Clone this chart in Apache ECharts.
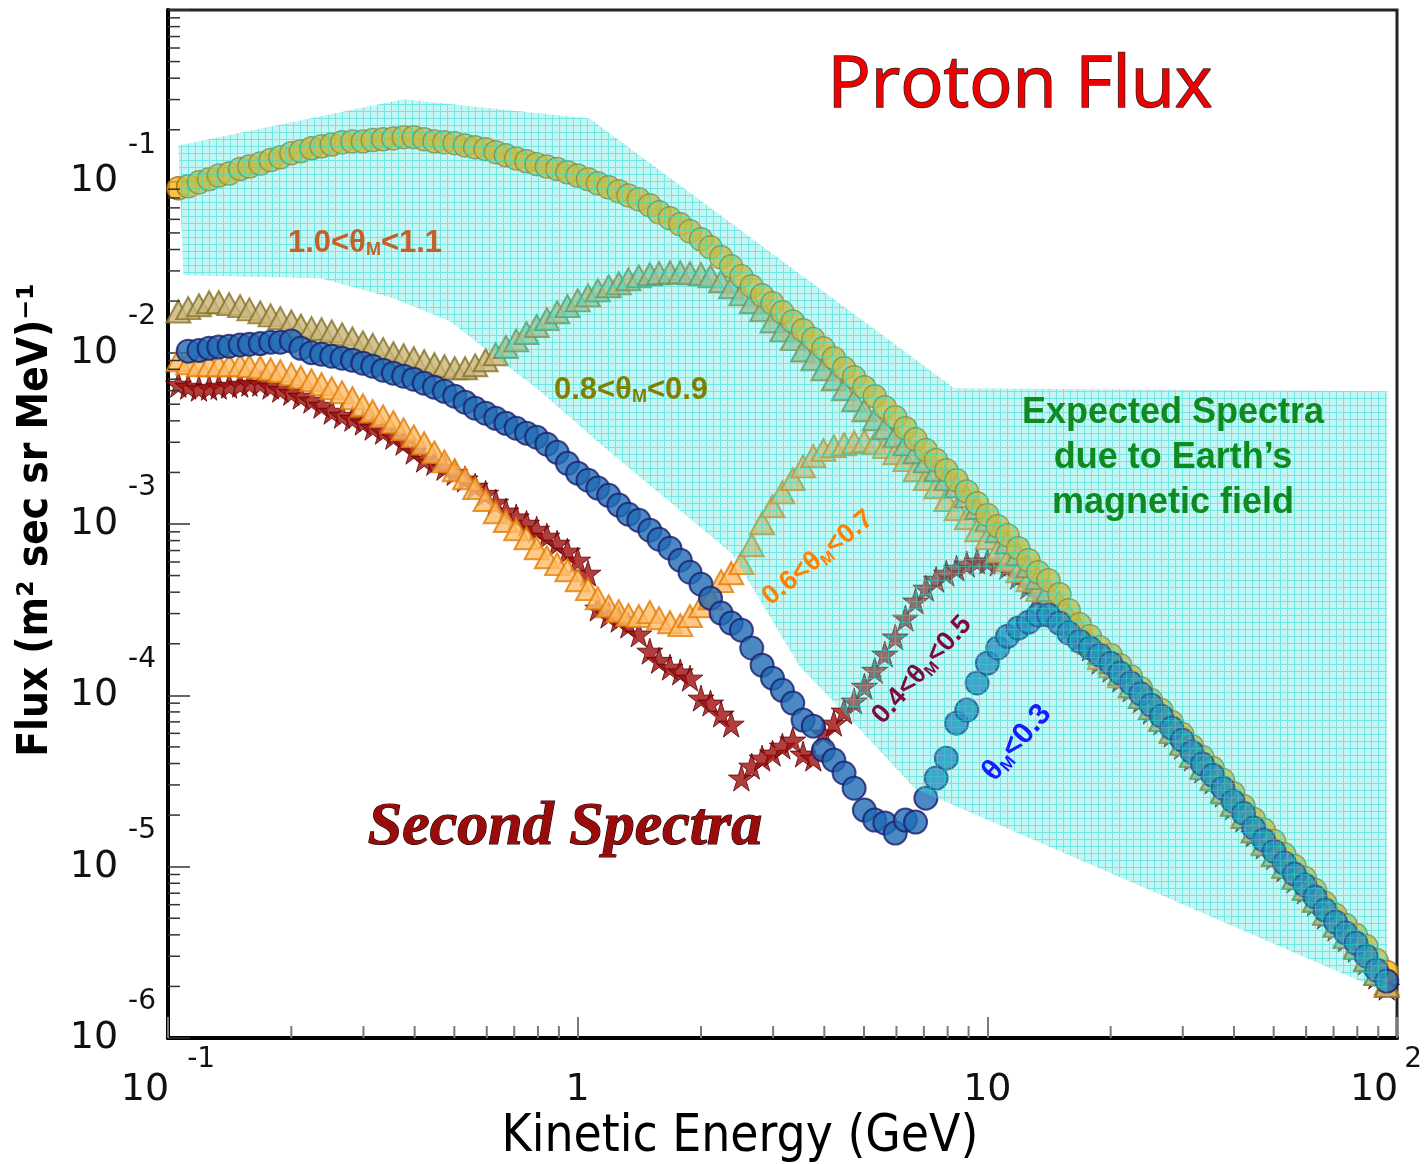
<!DOCTYPE html>
<html>
<head>
<meta charset="utf-8">
<title>Proton Flux</title>
<script src="https://cdn.jsdelivr.net/npm/echarts@6.0.0/dist/echarts.min.js"></script>
<style>
  html, body { margin: 0; padding: 0; background: #fff; overflow: hidden; }
  #chart { width: 1425px; height: 1164px; }
</style>
</head>
<body>
<div id="chart"></div>
<script>
// Common energy bins (GeV), shared by all zenith-angle bands
const energyGeV = [
  0.106, 0.112, 0.119, 0.126, 0.133, 0.141, 0.150, 0.158, 0.168, 0.178,
  0.188, 0.200, 0.211, 0.224, 0.237, 0.251, 0.266, 0.282, 0.299, 0.316,
  0.335, 0.355, 0.376, 0.398, 0.422, 0.447, 0.473, 0.501, 0.531, 0.562,
  0.596, 0.631, 0.668, 0.708, 0.750, 0.794, 0.841, 0.891, 0.944, 1.00,
  1.06, 1.12, 1.19, 1.26, 1.33, 1.41, 1.50, 1.58, 1.68, 1.78,
  1.88, 2.00, 2.11, 2.24, 2.37, 2.51, 2.66, 2.82, 2.99, 3.16,
  3.35, 3.55, 3.76, 3.98, 4.22, 4.47, 4.73, 5.01, 5.31, 5.62,
  5.96, 6.31, 6.68, 7.08, 7.50, 7.94, 8.41, 8.91, 9.44, 10.0,
  10.6, 11.2, 11.9, 12.6, 13.3, 14.1, 15.0, 15.8, 16.8, 17.8,
  18.8, 20.0, 21.1, 22.4, 23.7, 25.1, 26.6, 28.2, 29.9, 31.6,
  33.5, 35.5, 37.6, 39.8, 42.2, 44.7, 47.3, 50.1, 53.1, 56.2,
  59.6, 63.1, 66.8, 70.8, 75.0, 79.4, 84.1, 89.1, 94.4
];

// 1.0 < thetaM < 1.1 (yellow circles)
const fluxTheta10 = [
  9.10e-2, 9.35e-2, 9.87e-2, 1.03e-1, 1.08e-1, 1.11e-1, 1.18e-1, 1.22e-1, 1.27e-1, 1.33e-1,
  1.38e-1, 1.46e-1, 1.50e-1, 1.56e-1, 1.60e-1, 1.64e-1, 1.69e-1, 1.71e-1, 1.71e-1, 1.74e-1,
  1.76e-1, 1.78e-1, 1.81e-1, 1.81e-1, 1.76e-1, 1.71e-1, 1.69e-1, 1.67e-1, 1.62e-1, 1.58e-1,
  1.54e-1, 1.48e-1, 1.42e-1, 1.36e-1, 1.31e-1, 1.26e-1, 1.22e-1, 1.18e-1, 1.13e-1, 1.08e-1,
  1.03e-1, 9.73e-2, 9.23e-2, 8.74e-2, 8.28e-2, 7.85e-2, 7.24e-2, 6.59e-2, 6.08e-2, 5.61e-2,
  5.11e-2, 4.59e-2, 4.12e-2, 3.60e-2, 3.19e-2, 2.79e-2, 2.44e-2, 2.16e-2, 1.94e-2, 1.72e-2,
  1.52e-2, 1.35e-2, 1.20e-2, 1.06e-2, 9.28e-3, 8.11e-3, 7.19e-3, 6.28e-3, 5.57e-3, 4.80e-3,
  4.20e-3, 3.62e-3, 3.12e-3, 2.70e-3, 2.36e-3, 2.06e-3, 1.80e-3, 1.55e-3, 1.32e-3, 1.13e-3,
  9.71e-4, 8.60e-4, 7.22e-4, 6.15e-4, 5.23e-4, 4.70e-4, 3.89e-4, 3.14e-4, 2.60e-4, 2.21e-4,
  1.91e-4, 1.72e-4, 1.50e-4, 1.29e-4, 1.10e-4, 9.38e-5, 8.20e-5, 6.98e-5, 5.94e-5, 5.05e-5,
  4.36e-5, 3.76e-5, 3.20e-5, 2.69e-5, 2.26e-5, 1.90e-5, 1.64e-5, 1.41e-5, 1.18e-5, 1.01e-5,
  8.58e-6, 7.30e-6, 6.13e-6, 5.22e-6, 4.56e-6, 3.99e-6, 3.44e-6, 2.85e-6, 2.43e-6
];

// 0.8 < thetaM < 0.9 (khaki triangles)
const fluxTheta08 = [
  1.74e-2, 1.82e-2, 1.89e-2, 1.97e-2, 1.97e-2, 1.92e-2, 1.87e-2, 1.79e-2, 1.72e-2, 1.65e-2,
  1.59e-2, 1.52e-2, 1.44e-2, 1.39e-2, 1.37e-2, 1.33e-2, 1.28e-2, 1.21e-2, 1.15e-2, 1.11e-2,
  1.05e-2, 9.92e-3, 9.66e-3, 9.28e-3, 8.91e-3, 8.56e-3, 8.33e-3, 8.11e-3, 8.11e-3, 8.44e-3,
  9.03e-3, 9.79e-3, 1.08e-2, 1.18e-2, 1.30e-2, 1.43e-2, 1.57e-2, 1.72e-2, 1.87e-2, 2.02e-2,
  2.16e-2, 2.31e-2, 2.44e-2, 2.54e-2, 2.68e-2, 2.79e-2, 2.87e-2, 2.91e-2, 2.94e-2, 2.94e-2,
  2.91e-2, 2.87e-2, 2.79e-2, 2.61e-2, 2.41e-2, 2.19e-2, 1.97e-2, 1.77e-2, 1.52e-2, 1.35e-2,
  1.20e-2, 1.03e-2, 9.15e-3, 8.00e-3, 7.00e-3, 6.12e-3, 5.28e-3, 4.61e-3, 4.09e-3, 3.62e-3,
  3.25e-3, 2.92e-3, 2.62e-3, 2.32e-3, 2.06e-3, 1.83e-3, 1.66e-3, 1.45e-3, 1.24e-3, 1.05e-3,
  9.08e-4, 7.83e-4, 6.67e-4, 5.67e-4, 4.83e-4, 4.11e-4, 3.50e-4, 2.94e-4, 2.47e-4, 2.10e-4,
  1.76e-4, 1.56e-4, 1.33e-4, 1.13e-4, 9.76e-5, 8.42e-5, 7.17e-5, 6.10e-5, 5.19e-5, 4.42e-5,
  3.76e-5, 3.24e-5, 2.72e-5, 2.29e-5, 1.95e-5, 1.61e-5, 1.35e-5, 1.17e-5, 9.94e-6, 8.58e-6,
  7.40e-6, 6.30e-6, 5.29e-6, 4.50e-6, 3.88e-6, 3.35e-6, 2.85e-6, 2.36e-6, 2.01e-6
];

// 0.6 < thetaM < 0.7 (orange triangles)
const fluxTheta06 = [
  9.03e-3, 8.68e-3, 8.44e-3, 8.44e-3, 8.44e-3, 8.44e-3, 8.44e-3, 8.33e-3, 8.22e-3, 8.00e-3,
  7.79e-3, 7.48e-3, 7.19e-3, 6.90e-3, 6.54e-3, 6.20e-3, 5.87e-3, 5.42e-3, 4.93e-3, 4.55e-3,
  4.25e-3, 3.93e-3, 3.57e-3, 3.25e-3, 2.96e-3, 2.62e-3, 2.32e-3, 2.06e-3, 1.85e-3, 1.62e-3,
  1.38e-3, 1.17e-3, 1.04e-3, 9.32e-4, 8.26e-4, 7.22e-4, 6.40e-4, 5.83e-4, 5.37e-4, 4.70e-4,
  4.17e-4, 3.69e-4, 3.31e-4, 3.10e-4, 2.94e-4, 2.90e-4, 3.06e-4, 2.82e-4, 2.67e-4, 2.57e-4,
  2.90e-4, 3.31e-4, 3.69e-4, 4.64e-4, 5.16e-4, 5.91e-4, 7.52e-4, 1.01e-3, 1.27e-3, 1.53e-3,
  1.83e-3, 2.17e-3, 2.49e-3, 2.70e-3, 2.84e-3, 2.92e-3, 3.00e-3, 3.04e-3, 2.96e-3, 2.81e-3,
  2.59e-3, 2.36e-3, 2.06e-3, 1.83e-3, 1.64e-3, 1.38e-3, 1.22e-3, 1.08e-3, 9.20e-4, 8.26e-4,
  6.94e-4, 6.15e-4, 5.30e-4, 4.70e-4, 4.11e-4, 3.59e-4, 3.10e-4, 2.67e-4, 2.34e-4, 2.02e-4,
  1.65e-4, 1.48e-4, 1.29e-4, 1.13e-4, 9.76e-5, 8.42e-5, 7.26e-5, 6.18e-5, 5.26e-5, 4.48e-5,
  3.81e-5, 3.29e-5, 2.76e-5, 2.32e-5, 1.97e-5, 1.61e-5, 1.37e-5, 1.18e-5, 1.01e-5, 8.70e-6,
  7.50e-6, 6.38e-6, 5.36e-6, 4.56e-6, 3.94e-6, 3.44e-6, 2.89e-6, 2.39e-6, 2.07e-6
];

// 0.4 < thetaM < 0.5 (dark red stars)
const fluxTheta04 = [
  6.54e-3, 6.37e-3, 6.20e-3, 6.28e-3, 6.37e-3, 6.45e-3, 6.54e-3, 6.63e-3, 6.63e-3, 6.37e-3,
  6.12e-3, 5.87e-3, 5.57e-3, 5.28e-3, 4.93e-3, 4.55e-3, 4.31e-3, 4.14e-3, 3.93e-3, 3.67e-3,
  3.48e-3, 3.25e-3, 3.00e-3, 2.66e-3, 2.39e-3, 2.29e-3, 2.14e-3, 2.00e-3, 1.83e-3, 1.66e-3,
  1.51e-3, 1.34e-3, 1.19e-3, 1.10e-3, 1.01e-3, 9.32e-4, 8.49e-4, 7.73e-4, 6.94e-4, 6.15e-4,
  5.16e-4, 3.23e-4, 2.94e-4, 2.78e-4, 2.57e-4, 2.28e-4, 1.81e-4, 1.60e-4, 1.46e-4, 1.37e-4,
  1.26e-4, 9.63e-5, 9.01e-5, 7.77e-5, 6.79e-5, 3.29e-5, 3.86e-5, 4.30e-5, 4.60e-5, 5.05e-5,
  5.48e-5, 4.54e-5, 4.30e-5, 6.02e-5, 6.88e-5, 8.09e-5, 9.25e-5, 1.13e-4, 1.40e-4, 1.74e-4,
  2.19e-4, 2.82e-4, 3.55e-4, 4.22e-4, 4.76e-4, 5.16e-4, 5.52e-4, 5.83e-4, 6.07e-4, 6.07e-4,
  5.91e-4, 5.67e-4, 4.96e-4, 4.34e-4, 3.79e-4, 3.31e-4, 2.90e-4, 2.47e-4, 2.14e-4, 1.89e-4,
  1.58e-4, 1.42e-4, 1.24e-4, 1.09e-4, 9.38e-5, 8.09e-5, 6.98e-5, 5.94e-5, 5.05e-5, 4.30e-5,
  3.66e-5, 3.16e-5, 2.65e-5, 2.23e-5, 1.90e-5, 1.55e-5, 1.32e-5, 1.14e-5, 9.68e-6, 8.35e-6,
  7.20e-6, 6.13e-6, 5.15e-6, 4.38e-6, 3.78e-6, 3.30e-6, 2.78e-6, 2.30e-6, 1.98e-6
];

// thetaM < 0.3 (blue circles)
const fluxTheta00 = [
  null, 1.02e-2, 1.03e-2, 1.06e-2, 1.08e-2, 1.09e-2, 1.11e-2, 1.12e-2, 1.13e-2, 1.15e-2,
  1.15e-2, 1.17e-2, 1.06e-2, 1.00e-2, 9.79e-3, 9.53e-3, 9.28e-3, 9.03e-3, 8.68e-3, 8.33e-3,
  7.90e-3, 7.58e-3, 7.29e-3, 7.00e-3, 6.63e-3, 6.28e-3, 5.95e-3, 5.57e-3, 5.14e-3, 4.74e-3,
  4.43e-3, 4.14e-3, 3.87e-3, 3.62e-3, 3.39e-3, 3.21e-3, 2.92e-3, 2.62e-3, 2.26e-3, 1.98e-3,
  1.80e-3, 1.62e-3, 1.47e-3, 1.29e-3, 1.14e-3, 1.05e-3, 9.20e-4, 8.15e-4, 7.22e-4, 6.15e-4,
  5.23e-4, 4.45e-4, 3.69e-4, 3.02e-4, 2.64e-4, 2.40e-4, 1.89e-4, 1.50e-4, 1.26e-4, 1.07e-4,
  9.01e-5, 7.17e-5, 6.61e-5, 4.79e-5, 4.19e-5, 3.52e-5, 2.87e-5, 2.14e-5, 1.87e-5, 1.80e-5,
  1.57e-5, 1.87e-5, 1.82e-5, 2.51e-5, 3.29e-5, 4.30e-5, 6.88e-5, 8.20e-5, 1.18e-4, 1.54e-4,
  1.89e-4, 2.21e-4, 2.47e-4, 2.67e-4, 2.94e-4, 2.94e-4, 2.64e-4, 2.31e-4, 2.07e-4, 1.89e-4,
  1.72e-4, 1.54e-4, 1.35e-4, 1.18e-4, 1.02e-4, 8.77e-5, 7.56e-5, 6.44e-5, 5.48e-5, 4.66e-5,
  3.97e-5, 3.42e-5, 2.87e-5, 2.41e-5, 2.05e-5, 1.68e-5, 1.43e-5, 1.23e-5, 1.05e-5, 9.05e-6,
  7.81e-6, 6.65e-6, 5.58e-6, 4.75e-6, 4.10e-6, 3.58e-6, 3.01e-6, 2.49e-6, 2.15e-6
];

// "Expected spectra due to Earth's magnetic field" band outline
const expectedBandE = [0.106, 0.376, 1.07, 8.31, 94.8, 94.8, 6.64, 4.61, 3.48, 2.39, 1.13, 0.810, 0.623, 0.489, 0.355, 0.236, 0.109];
const expectedBandF = [0.162, 0.301, 0.233, 6.20e-3, 5.95e-3, 1.83e-6, 2.87e-5, 7.36e-5, 1.48e-4, 6.67e-4, 2.96e-3, 5.95e-3, 9.66e-3, 1.52e-2, 2.08e-2, 2.72e-2, 2.83e-2];

// minor log ticks
const xMinorTicks = [0.2, 0.3, 0.4, 0.5, 0.6, 0.7, 0.8, 0.9, 2, 3, 4, 5, 6, 7, 8, 9, 20, 30, 40, 50, 60, 70, 80, 90];
const yMinorTicks = [
  2e-6, 3e-6, 4e-6, 5e-6, 6e-6, 7e-6, 8e-6, 9e-6,
  2e-5, 3e-5, 4e-5, 5e-5, 6e-5, 7e-5, 8e-5, 9e-5,
  2e-4, 3e-4, 4e-4, 5e-4, 6e-4, 7e-4, 8e-4, 9e-4,
  2e-3, 3e-3, 4e-3, 5e-3, 6e-3, 7e-3, 8e-3, 9e-3,
  2e-2, 3e-2, 4e-2, 5e-2, 6e-2, 7e-2, 8e-2, 9e-2,
  0.2, 0.3, 0.4, 0.5, 0.6, 0.7, 0.8, 0.9
];

const SANS = '"DejaVu Sans", sans-serif';
const BOLD = 'bold 31px "Liberation Sans", Arial, sans-serif';
const SUB = 'bold 18px "Liberation Sans", Arial, sans-serif';
const STAR = 'path://M50,0 L61,35 L98,35 L68,57 L79,91 L50,70 L21,91 L32,57 L2,35 L39,35 Z';

const toPoints = (flux) => energyGeV.map((e, i) => [e, flux[i]]).filter(p => p[1] != null);

const powerLabel = (v) => {
  const p = Math.round(Math.log10(v));
  if (p === 0) return '{b|1}';
  if (p === 1) return '{b|10}';
  return '{b|10}{' + (p > 0 ? 'p' : 's') + '|' + p + '}';
};

// fine cyan grid used for the expected-spectra band
const makeHatch = () => {
  const c = document.createElement('canvas');
  c.width = 7;
  c.height = 7;
  const ctx = c.getContext('2d');
  ctx.fillStyle = 'rgba(64, 224, 216, 0.3)';
  ctx.fillRect(0, 0, 7, 7);
  ctx.fillStyle = 'rgba(30, 218, 212, 0.5)';
  ctx.fillRect(0, 6, 7, 1);
  ctx.fillRect(6, 0, 1, 6);
  return c;
};
const hatch = makeHatch();

const thetaLabel = (a, b, opts) => ({
  type: 'text',
  z: 100,
  x: opts.x,
  y: opts.y,
  rotation: opts.rotation || 0,
  style: {
    text: '{a|' + a + '}{s|M}{a|' + b + '}',
    fill: opts.color,
    align: 'center',
    verticalAlign: 'middle',
    rich: {
      a: { font: opts.font || BOLD, fill: opts.color },
      s: { font: opts.subFont || SUB, fill: opts.color, padding: [14, 0, 0, 0] }
    }
  }
});

const chart = echarts.init(document.getElementById('chart'));

chart.setOption({
  animation: false,
  backgroundColor: '#fff',
  grid: {
    left: 168,
    right: 28,
    top: 10,
    bottom: 126,
    show: true,
    borderColor: '#222',
    borderWidth: 3,
    containLabel: false,
    outerBoundsMode: 'none'
  },
  xAxis: {
    type: 'log',
    logBase: 10,
    min: 0.1,
    max: 100,
    axisLine: { lineStyle: { color: '#000', width: 4 } },
    axisTick: { inside: true, length: 21, lineStyle: { color: '#7a7a7a', width: 2 } },
    splitLine: { show: false },
    axisLabel: {
      margin: 8,
      formatter: powerLabel,
      rich: {
        b: { fontFamily: SANS, fontSize: 38, lineHeight: 88, color: '#111' },
        s: { fontFamily: SANS, fontSize: 28, color: '#111', padding: [0, 0, 60, 18] },
        p: { fontFamily: SANS, fontSize: 28, color: '#111', padding: [0, 22, 60, 6] }
      }
    }
  },
  yAxis: {
    type: 'log',
    logBase: 10,
    min: 1e-6,
    max: 1,
    axisLine: { lineStyle: { color: '#000', width: 4 } },
    axisTick: { inside: true, length: 22, lineStyle: { color: '#333', width: 1.5 } },
    splitLine: { show: false },
    axisLabel: {
      margin: 12,
      formatter: (v) => (Math.round(Math.log10(v)) === 0 ? '' : powerLabel(v)),
      rich: {
        b: { fontFamily: SANS, fontSize: 38, lineHeight: 100, color: '#111' },
        s: { fontFamily: SANS, fontSize: 28, color: '#111', padding: [0, 0, 72, 10] }
      }
    }
  },
  graphic: [
    {
      type: 'text', z: 100, x: 1020, y: 86,
      style: {
        text: 'Proton Flux', fill: '#ee0000', stroke: '#2a2a2a', lineWidth: 1.5,
        font: '72px "Open Sans", "Noto Sans", sans-serif', align: 'center', verticalAlign: 'middle'
      }
    },
    {
      type: 'text', z: 100, x: 1173, y: 458,
      style: {
        text: 'Expected Spectra\ndue to Earth\u2019s\nmagnetic field', fill: '#0e8a1e',
        font: 'bold 36px "Liberation Sans", Arial, sans-serif', lineHeight: 45,
        align: 'center', verticalAlign: 'middle'
      }
    },
    {
      type: 'text', z: 100, x: 565, y: 828,
      style: {
        text: 'Second Spectra', fill: '#9a0c0c', stroke: '#1a0000', lineWidth: 1.2,
        font: 'italic bold 62px "Liberation Serif", "DejaVu Serif", serif',
        align: 'center', verticalAlign: 'middle',
        shadowColor: 'rgba(0,0,0,0.45)', shadowBlur: 2, shadowOffsetX: 3, shadowOffsetY: 3
      }
    },
    {
      type: 'text', z: 100, x: 36, y: 520, rotation: Math.PI / 2,
      style: {
        text: 'Flux (m\u00b2 sec sr MeV)\u207b\u00b9', fill: '#000',
        font: 'bold 42px "Liberation Sans Narrow", "DejaVu Sans Condensed", Arial, sans-serif',
        align: 'center', verticalAlign: 'middle'
      }
    },
    {
      type: 'text', z: 100, x: 740, y: 1138,
      style: {
        text: 'Kinetic Energy (GeV)', fill: '#000',
        font: '51px "Liberation Sans Narrow", "DejaVu Sans Condensed", Arial, sans-serif',
        align: 'center', verticalAlign: 'middle'
      }
    },
    thetaLabel('1.0<\u03b8', '<1.1', { x: 365, y: 243, color: '#c0622a' }),
    thetaLabel('0.8<\u03b8', '<0.9', { x: 631, y: 390, color: '#7f7f00' }),
    thetaLabel('0.6<\u03b8', '<0.7', {
      x: 818, y: 558, rotation: 0.68, color: '#ff8000',
      font: 'bold 27px "Liberation Sans", Arial, sans-serif', subFont: 'bold 16px "Liberation Sans", Arial, sans-serif'
    }),
    thetaLabel('0.4<\u03b8', '<0.5', {
      x: 922, y: 670, rotation: 0.84, color: '#7b0a3f',
      font: 'bold 27px "Liberation Sans", Arial, sans-serif', subFont: 'bold 16px "Liberation Sans", Arial, sans-serif'
    }),
    {
      type: 'text', z: 100, x: 1017, y: 743, rotation: 0.87,
      style: {
        text: '{a|\u03b8}{s|M}{a|<0.3}', fill: '#1a1aff', align: 'center', verticalAlign: 'middle',
        rich: {
          a: { font: 'bold 30px "Liberation Sans", Arial, sans-serif', fill: '#1a1aff' },
          s: { font: 'bold 17px "Liberation Sans", Arial, sans-serif', fill: '#1a1aff', padding: [14, 0, 0, 0] }
        }
      }
    }
  ],
  series: [
    {
      name: '0.4<thetaM<0.5',
      type: 'scatter',
      z: 2,
      symbol: STAR,
      symbolSize: 26,
      data: toPoints(fluxTheta04),
      itemStyle: { color: '#a00c0c', borderColor: '#5a0000', borderWidth: 1 }
    },
    {
      name: '0.6<thetaM<0.7',
      type: 'scatter',
      z: 2,
      symbol: 'triangle',
      symbolSize: [24, 22],
      data: toPoints(fluxTheta06),
      itemStyle: { color: '#fbbb68', borderColor: '#e37b00', borderWidth: 2 }
    },
    {
      name: '0.8<thetaM<0.9',
      type: 'scatter',
      z: 2,
      symbol: 'triangle',
      symbolSize: [24, 22],
      data: toPoints(fluxTheta08),
      itemStyle: { color: '#c9b57a', borderColor: '#857226', borderWidth: 2 }
    },
    {
      name: '1.0<thetaM<1.1',
      type: 'scatter',
      z: 2,
      symbol: 'circle',
      symbolSize: 23,
      data: toPoints(fluxTheta10),
      itemStyle: { color: '#fab414', borderColor: '#94661a', borderWidth: 1.5 }
    },
    {
      name: 'thetaM<0.3',
      type: 'scatter',
      z: 2,
      symbol: 'circle',
      symbolSize: 23,
      data: toPoints(fluxTheta00),
      itemStyle: { color: '#1f6cb5', borderColor: '#1b1f6b', borderWidth: 2 }
    },
    {
      name: 'Expected Spectra',
      type: 'custom',
      silent: true,
      z: 5,
      clip: false,
      data: [[expectedBandE[0], expectedBandF[0]]],
      renderItem: (params, api) => ({
        type: 'polygon',
        shape: { points: expectedBandE.map((e, i) => api.coord([e, expectedBandF[i]])) },
        style: { fill: { image: hatch, repeat: 'repeat' } }
      })
    },
    {
      name: 'x minor ticks',
      type: 'custom',
      silent: true,
      z: 6,
      data: xMinorTicks.map(v => [v, 1e-6]),
      renderItem: (params, api) => {
        const p = api.coord([api.value(0), api.value(1)]);
        return {
          type: 'line',
          shape: { x1: p[0], y1: p[1], x2: p[0], y2: p[1] - 12 },
          style: { stroke: '#7a7a7a', lineWidth: 2 }
        };
      }
    },
    {
      name: 'y minor ticks',
      type: 'custom',
      silent: true,
      z: 6,
      data: yMinorTicks.map(v => [0.1, v]),
      renderItem: (params, api) => {
        const p = api.coord([api.value(0), api.value(1)]);
        return {
          type: 'line',
          shape: { x1: p[0], y1: p[1], x2: p[0] + 12, y2: p[1] },
          style: { stroke: '#333', lineWidth: 1.5 }
        };
      }
    }
  ]
});
</script>
</body>
</html>
